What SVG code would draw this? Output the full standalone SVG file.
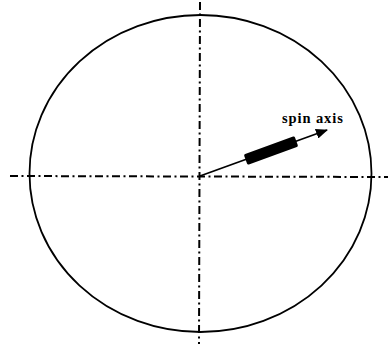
<svg xmlns="http://www.w3.org/2000/svg" width="388" height="344" viewBox="0 0 388 344">
<style>
.axis{stroke:#000;stroke-width:2;fill:none;stroke-dasharray:8 3.5 2 3.5}
.lbl{font-family:"Liberation Serif",serif;font-weight:bold;font-size:14.5px;fill:#000}
</style>
<defs>
<marker id="ah" viewBox="0 0 12 10" refX="11" refY="5" markerWidth="12" markerHeight="10" markerUnits="userSpaceOnUse" orient="auto">
<path d="M0,0 L12,5 L0,10 Z" fill="#000"/>
</marker>
</defs>
<rect width="388" height="344" fill="#fff"/>
<g id="ellipse">
<ellipse cx="200.5" cy="173.5" rx="171" ry="158.5" fill="none" stroke="#000" stroke-width="1.8"/>
</g>
<g id="axes">
<line class="axis" x1="10" y1="176" x2="388" y2="177"/>
<line class="axis" x1="200" y1="2" x2="199" y2="344"/>
</g>
<g id="spin-axis">
<line x1="200" y1="176" x2="327" y2="130" stroke="#000" stroke-width="1.8" marker-end="url(#ah)"/>
<g transform="translate(271,150.5) rotate(-20)">
<rect x="-27" y="-5.5" width="54" height="11" rx="1.5" fill="#000"/>
</g>
<text class="lbl" x="282" y="123" letter-spacing="0.9">spin axis</text>
</g>
</svg>
